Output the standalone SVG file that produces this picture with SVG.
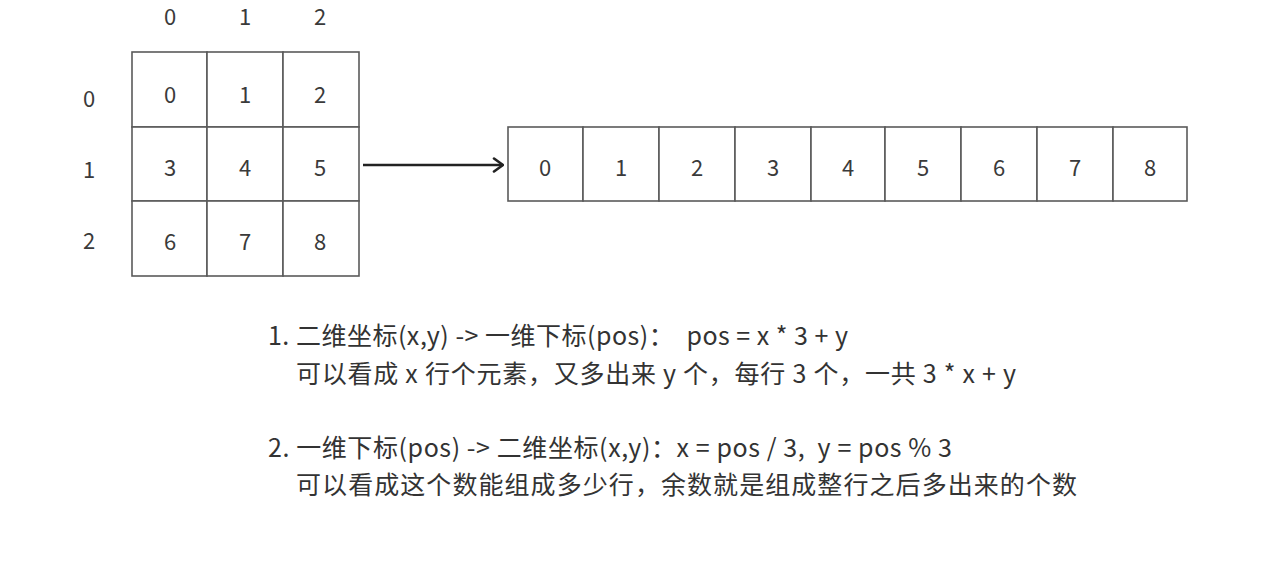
<svg xmlns="http://www.w3.org/2000/svg" width="1261" height="562" viewBox="0 0 1261 562">
<style>
.cell{fill:#fff;stroke:#5a5a5a;stroke-width:1.6}
.num{font-family:"Noto Sans CJK SC","Noto Sans",sans-serif;font-size:22px;fill:#3a3a3a;text-anchor:middle;dominant-baseline:central}
.note{font-family:"Noto Sans CJK SC","Noto Sans",sans-serif;font-size:25px;fill:#333;white-space:pre}
.conn{stroke:#222;stroke-width:2.6;fill:none}
</style>
<defs>
<marker id="open" viewBox="0 0 12 16" refX="11" refY="8" markerWidth="12" markerHeight="16" markerUnits="userSpaceOnUse" orient="auto">
<path d="M2,1.5 L11,8 L2,14.5" fill="none" stroke="#222" stroke-width="2.6" stroke-linecap="round" stroke-linejoin="round"/>
</marker>
</defs>
<rect width="1261" height="562" fill="#fff"/>
<g id="col-labels">
<text class="num" x="170" y="15">0</text>
<text class="num" x="245" y="15">1</text>
<text class="num" x="320" y="15">2</text>
</g>
<g id="row-labels">
<text class="num" x="89" y="97">0</text>
<text class="num" x="89" y="168">1</text>
<text class="num" x="89" y="239">2</text>
</g>
<g id="grid">
<rect class="cell" x="132" y="52" width="75" height="75"/>
<rect class="cell" x="207" y="52" width="76" height="75"/>
<rect class="cell" x="283" y="52" width="76" height="75"/>
<rect class="cell" x="132" y="127" width="75" height="74"/>
<rect class="cell" x="207" y="127" width="76" height="74"/>
<rect class="cell" x="283" y="127" width="76" height="74"/>
<rect class="cell" x="132" y="201" width="75" height="75"/>
<rect class="cell" x="207" y="201" width="76" height="75"/>
<rect class="cell" x="283" y="201" width="76" height="75"/>
<text class="num" x="170" y="93">0</text>
<text class="num" x="245" y="93">1</text>
<text class="num" x="320" y="93">2</text>
<text class="num" x="170" y="166">3</text>
<text class="num" x="245" y="166">4</text>
<text class="num" x="320" y="166">5</text>
<text class="num" x="170" y="240">6</text>
<text class="num" x="245" y="240">7</text>
<text class="num" x="320" y="240">8</text>
</g>
<g id="array">
<rect class="cell" x="508" y="127" width="75" height="74"/>
<rect class="cell" x="583" y="127" width="76" height="74"/>
<rect class="cell" x="659" y="127" width="76" height="74"/>
<rect class="cell" x="735" y="127" width="76" height="74"/>
<rect class="cell" x="811" y="127" width="74" height="74"/>
<rect class="cell" x="885" y="127" width="76" height="74"/>
<rect class="cell" x="961" y="127" width="76" height="74"/>
<rect class="cell" x="1037" y="127" width="76" height="74"/>
<rect class="cell" x="1113" y="127" width="74" height="74"/>
<text class="num" x="545" y="166">0</text>
<text class="num" x="621" y="166">1</text>
<text class="num" x="697" y="166">2</text>
<text class="num" x="773" y="166">3</text>
<text class="num" x="848" y="166">4</text>
<text class="num" x="923" y="166">5</text>
<text class="num" x="999" y="166">6</text>
<text class="num" x="1075" y="166">7</text>
<text class="num" x="1150" y="166">8</text>
</g>
<g id="connectors">
<line class="conn" x1="363" y1="165" x2="503" y2="165" marker-end="url(#open)"/>
</g>
<g id="notes">
<text class="note" x="268" y="345" textLength="580" lengthAdjust="spacing">1. 二维坐标(x,y) -&gt; 一维下标(pos)：  pos = x * 3 + y</text>
<text class="note" x="296" y="383" textLength="720" lengthAdjust="spacing">可以看成 x 行个元素，又多出来 y 个，每行 3 个，一共 3 * x + y</text>
<text class="note" x="268" y="457" textLength="684" lengthAdjust="spacing">2. 一维下标(pos) -&gt; 二维坐标(x,y)：x = pos / 3,  y = pos % 3</text>
<text class="note" x="296" y="494" textLength="781" lengthAdjust="spacing">可以看成这个数能组成多少行，余数就是组成整行之后多出来的个数</text>
</g>
</svg>
